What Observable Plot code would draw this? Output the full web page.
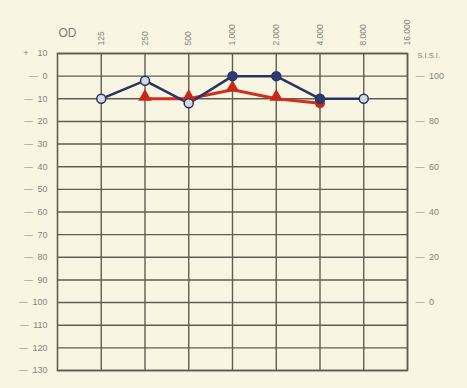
<!DOCTYPE html>
<html>
<head>
<meta charset="utf-8">
<script src="https://cdn.jsdelivr.net/npm/d3@7"></script>
<script src="https://cdn.jsdelivr.net/npm/@observablehq/plot@0.6"></script>
<style>
  html, body { margin: 0; padding: 0; background: #f8f6e2; }
</style>
</head>
<body>
<div id="chart"></div>
<script>
// Frequency axis (Hz) and its printed labels
const freqTicks = [125, 250, 500, 1000, 2000, 4000, 8000, 16000];
const freqLabels = ["125", "250", "500", "1.000", "2.000", "4.000", "8.000", "16.000"];
// Hearing level ticks (dB)
const dbTicks = [-10, 0, 10, 20, 30, 40, 50, 60, 70, 80, 90, 100, 110, 120, 130];
// S.I.S.I. scale ticks (%)
const sisiTicks = [100, 80, 60, 40, 20, 0];

// Blue series (circles)
const blueFreq = [125, 250, 500, 1000, 2000, 4000, 8000];
const blueDb = [10, 2, 12, 0, 0, 10, 10];
// Red series (triangles)
const redFreq = [250, 500, 1000, 2000, 4000];
const redDb = [10, 10, 6, 10, 12];

const blue = blueFreq.map((f, i) => ({f, db: blueDb[i]}));
const red = redFreq.map((f, i) => ({f, db: redDb[i]}));
const filledBlue = new Set([1000, 2000, 4000]);
const roundRed = new Set([4000]);

const gridColor = "#5e5e54";
const textColor = "#85857b";

const chart = Plot.plot({
  width: 467,
  height: 388,
  marginLeft: 57,
  marginRight: 60,
  marginTop: 53,
  marginBottom: 18,
  style: {background: "#f8f6e2", fontFamily: "Liberation Sans, Arial, sans-serif"},
  x: {type: "log", base: 2, domain: [62.5, 16000]},
  y: {domain: [-10, 130], reverse: true},
  marks: [
    Plot.ruleY(dbTicks, {stroke: gridColor, strokeWidth: 1.4}),
    Plot.ruleX(freqTicks, {stroke: gridColor, strokeWidth: 1.4}),
    Plot.frame({stroke: gridColor, strokeWidth: 1.6}),
    Plot.axisY({anchor: "left", ticks: dbTicks, tickSize: 0, tickPadding: 10, label: null,
      tickFormat: d => d < 0 ? "+\u2002\u2002" + (-d) : "\u2014\u2002" + d, fontSize: 9, fill: textColor}),
    Plot.axisY({anchor: "right", ticks: sisiTicks.map(s => 100 - s), tickSize: 0, tickPadding: 8, label: null,
      tickFormat: d => "\u2014\u2002" + (100 - d), fontSize: 9, fill: textColor}),
    Plot.axisX({anchor: "top", ticks: freqTicks, tickSize: 0, tickPadding: 8, tickRotate: -90, label: null,
      tickFormat: d => freqLabels[freqTicks.indexOf(d)], fontSize: 8.5, fill: textColor}),
    Plot.text(["OD"], {frameAnchor: "top-left", textAnchor: "start", dx: 1, dy: -25, fontSize: 12, fill: "#7a7a72"}),
    Plot.text(["S.I.S.I."], {frameAnchor: "top-right", textAnchor: "start", dx: 10, dy: -1, fontSize: 7.5, fill: textColor}),
    Plot.line(red, {x: "f", y: "db", stroke: "#d1301e", strokeWidth: 3}),
    Plot.line(blue, {x: "f", y: "db", stroke: "#2a3462", strokeWidth: 2.5}),
    Plot.dot(red.filter(d => !roundRed.has(d.f)), {x: "f", y: "db", symbol: "triangle", r: 5, fill: "#c8281a", dy: -2}),
    Plot.dot(red.filter(d => roundRed.has(d.f)), {x: "f", y: "db", r: 5, fill: "#c8281a"}),
    Plot.dot(blue, {x: "f", y: "db", r: 4.5, stroke: "#2a3462", strokeWidth: 1.5,
      fill: d => filledBlue.has(d.f) ? "#2f3b70" : "#d6d8e2"})
  ]
});
document.getElementById("chart").appendChild(chart);
</script>
</body>
</html>
